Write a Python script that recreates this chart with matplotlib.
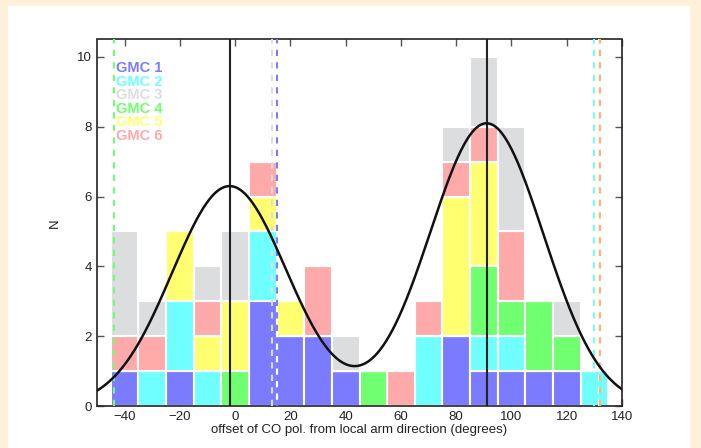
import numpy as np
import matplotlib.pyplot as plt
from matplotlib.patches import Rectangle

plt.rcParams['font.family'] = ['Liberation Sans', 'DejaVu Sans']

# bin centres (degrees), width 10
bin_centers = [-40, -30, -20, -10, 0, 10, 20, 30, 40, 50, 60, 70, 80, 90, 100, 110, 120, 130]

# counts per bin for each cloud
gmc1 = [1, 0, 1, 0, 0, 3, 2, 2, 1, 0, 0, 0, 2, 1, 1, 1, 1, 0]
gmc2 = [0, 1, 2, 1, 0, 2, 0, 0, 0, 0, 0, 2, 0, 1, 1, 0, 0, 1]
gmc3 = [3, 1, 0, 1, 2, 0, 0, 0, 1, 0, 0, 0, 1, 2, 3, 0, 1, 0]
gmc4 = [0, 0, 0, 0, 1, 0, 0, 0, 0, 1, 0, 0, 0, 2, 1, 2, 1, 0]
gmc5 = [0, 0, 2, 1, 2, 1, 1, 0, 0, 0, 0, 0, 4, 3, 0, 0, 0, 0]
gmc6 = [1, 1, 0, 1, 0, 1, 0, 2, 0, 0, 1, 1, 1, 1, 2, 0, 0, 0]

names = ['GMC 1', 'GMC 2', 'GMC 3', 'GMC 4', 'GMC 5', 'GMC 6']
colors = ['#7b7bff', '#70ffff', '#dcdddf', '#70ff70', '#ffff70', '#ffaaaa']

# mean arm direction of each cloud (dashed lines)
gmc_dirs = [15, 130, 13.5, -44, 131.5, 132.2]

# two-gaussian fit: amplitude, centre, sigma
fit_amp = [6.3, 8.1]
fit_mu = [-2, 91]
fit_sig = [20.8, 20.6]

fig = plt.figure(figsize=(7.01, 4.48), dpi=100, facecolor='#fff0dc')
fig.patches.append(Rectangle((8 / 701, 0), 682 / 701, 442 / 448,
                             transform=fig.transFigure, facecolor='white',
                             edgecolor='none', zorder=-10))
ax = fig.add_axes([97 / 701, 42 / 448, 525 / 701, 366.5 / 448])
ax.set_zorder(1)

# stacking order seen in the picture: 1, 2, 4, 5, 6, 3
stack = [(gmc1, colors[0]), (gmc2, colors[1]), (gmc4, colors[3]),
         (gmc5, colors[4]), (gmc6, colors[5]), (gmc3, colors[2])]
bottom = np.zeros(len(bin_centers))
for counts, c in stack:
    ax.bar(bin_centers, counts, width=10, bottom=bottom, color=c,
           edgecolor='white', linewidth=1.5, zorder=2)
    bottom += np.array(counts)

for x, c in zip(gmc_dirs, colors):
    ax.axvline(x, color=c, linestyle=(0, (3, 3)), linewidth=1.5, zorder=3)

for m in fit_mu:
    ax.axvline(m, color='#222222', linewidth=1.5, zorder=4)

xx = np.linspace(-50, 140, 500)
yy = sum(a * np.exp(-(xx - m) ** 2 / (2 * s ** 2))
         for a, m, s in zip(fit_amp, fit_mu, fit_sig))
ax.plot(xx, yy, color='#111111', linewidth=1.8, zorder=5)

for i, (n, c) in enumerate(zip(names, colors)):
    ax.text(0.037, 0.921 - i * 0.0366, n, transform=ax.transAxes, color=c,
            fontsize=10.5, fontweight='bold', va='center', ha='left', zorder=6)

ax.set_xlim(-50, 140)
ax.set_ylim(0, 10.5)
ax.set_xticks(range(-40, 141, 20))
ax.set_yticks(range(0, 11, 2))
ax.tick_params(direction='in', top=True, right=True, length=5, width=1,
               color='#555555', labelcolor='#222222', labelsize=9.5)
for sp in ax.spines.values():
    sp.set_linewidth(1.2)
    sp.set_color('#222222')
ax.set_xlabel('offset of CO pol. from local arm direction (degrees)', fontsize=9.5,
              color='#222222', labelpad=1)
ax.set_ylabel('N', fontsize=9.5, color='#222222', labelpad=12)

fig.savefig('out.png', dpi=100, facecolor=fig.get_facecolor())
